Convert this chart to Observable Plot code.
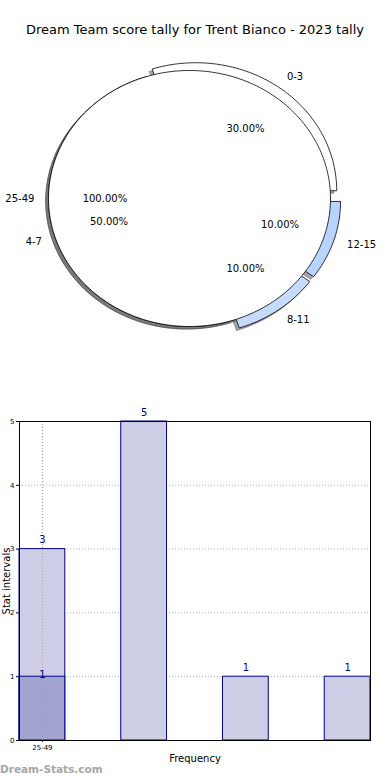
<!DOCTYPE html>
<html><head><meta charset="utf-8">
<script src="https://cdn.jsdelivr.net/npm/d3@7"></script>
<script src="https://cdn.jsdelivr.net/npm/@observablehq/plot@0.6"></script>
<style>
body{margin:0;background:#fff;font-family:"DejaVu Sans",sans-serif;}
#wrap{position:relative;width:390px;height:780px;overflow:hidden;background:#fff;}
#title{position:absolute;left:0;top:21px;width:390px;text-align:center;font-size:13px;line-height:18px;color:#000;}
#pie{position:absolute;left:0;top:45px;}
#bar{position:absolute;left:0;top:385px;}
#wm{position:absolute;left:0;top:762px;font-size:10.5px;font-weight:bold;color:#a6a6a6;line-height:15px;}
svg{font-family:"DejaVu Sans",sans-serif;}
</style></head>
<body><div id="wrap">
<div id="title">Dream Team score tally for Trent Bianco - 2023 tally</div>
<div id="pie"></div>
<div id="bar"></div>
<div id="wm">Dream-Stats.com</div>
</div>
<script>
// ---- data ----
const pieLabels = ["0-3", "4-7", "8-11", "12-15"];
const pieCounts = [3, 5, 1, 1];
const pieColors = ["#ffffff", "#ffffff", "#c6dafc", "#b8d4fc"];
const pieExplode = [0.075, 0, 0.075, 0.075];
const pie2Labels = ["25-49"];
const pie2Counts = [1];
const pie2Colors = ["#ffffff"];
const pie2Explode = [0];

const barCategories = ["0-3", "4-7", "8-11", "12-15"];
const barValues = [3, 5, 1, 1];
const bar2Categories = ["25-49"];
const bar2Values = [1];
const xTickLabels = ["25-49"];
const yTicks = [0, 1, 2, 3, 4, 5];

// ---- pie geometry (matplotlib-like: start at 0deg, counterclockwise) ----
function wedges(labels, counts, colors, explode) {
  const total = d3.sum(counts);
  let a = 0;
  return labels.map((lab, i) => {
    const t1 = a, t2 = a + 360 * counts[i] / total;
    a = t2;
    const mid = (t1 + t2) / 2 * Math.PI / 180;
    const dx = explode[i] * Math.cos(mid), dy = explode[i] * Math.sin(mid);
    const pts = [];
    const full = (t2 - t1) >= 359.999;
    if (!full) pts.push([dx, dy]);
    const n = Math.max(8, Math.ceil((t2 - t1) / 1.5));
    for (let k = 0; k <= n; k++) {
      const t = (t1 + (t2 - t1) * k / n) * Math.PI / 180;
      pts.push([dx + Math.cos(t), dy + Math.sin(t)]);
    }
    pts.push(pts[0]);
    const pct = (100 * counts[i] / total).toFixed(2) + "%";
    const lx = dx + 1.1 * Math.cos(mid), ly = dy + 1.1 * Math.sin(mid);
    return {
      label: lab, color: colors[i], pts, pct,
      lx, ly, right: lx > 0,
      px: dx + 0.6 * Math.cos(mid), py: dy + 0.6 * Math.sin(mid)
    };
  });
}
const W1 = wedges(pieLabels, pieCounts, pieColors, pieExplode);
const W2 = wedges(pie2Labels, pie2Counts, pie2Colors, pie2Explode);
const allW = [...W1, ...W2];

const pieMarks = [];
// shadows first (below all wedges)
for (const w of allW) {
  pieMarks.push(Plot.line(w.pts, {x: d => d[0] - 0.02, y: d => d[1] - 0.02, fill: "#4d4d4d", fillOpacity: 0.5, stroke: "#4d4d4d", strokeOpacity: 0.5, strokeWidth: 1, curve: "linear"}));
}
for (const w of allW) {
  pieMarks.push(Plot.line(w.pts, {x: d => d[0], y: d => d[1], fill: w.color, stroke: "#000", strokeWidth: 0.8, curve: "linear", strokeLinejoin: "miter"}));
}
pieMarks.push(Plot.text(allW.filter(w => w.right), {x: "lx", y: "ly", text: "label", textAnchor: "start", fontSize: 10, fill: "#000"}));
pieMarks.push(Plot.text(allW.filter(w => !w.right), {x: "lx", y: "ly", text: "label", textAnchor: "end", fontSize: 10, fill: "#000"}));
pieMarks.push(Plot.text(allW, {x: "px", y: "py", text: "pct", textAnchor: "middle", fontSize: 10, fill: "#000"}));

const pie = Plot.plot({
  width: 390, height: 330,
  marginLeft: 48, marginRight: 60, marginTop: 25, marginBottom: 49,
  x: {domain: [-1, 1]}, y: {domain: [-1, 1]},
  axis: null,
  marks: pieMarks
});
document.getElementById("pie").appendChild(pie);

// ---- bar chart ----
const barWidth = 0.45;
const bars1 = barCategories.map((c, i) => ({c, i, v: barValues[i]}));
const bars2 = bar2Categories.map((c, i) => ({c, i, v: bar2Values[i]}));
const xTickPos = xTickLabels.map((t, i) => i + barWidth / 2);

const bar = Plot.plot({
  width: 390, height: 395,
  marginLeft: 19, marginRight: 20, marginTop: 36, marginBottom: 40,
  style: {fontSize: "7px", fontFamily: "DejaVu Sans, sans-serif", color: "#000"},
  x: {type: "linear", domain: [0, barCategories.length - 1 + barWidth], ticks: xTickPos, tickFormat: (d, i) => xTickLabels[i], tickSize: 2, tickPadding: 3, label: null},
  y: {domain: [0, 5], ticks: yTicks, tickFormat: d => String(d), tickSize: 3, tickPadding: 2, label: null},
  marks: [
    Plot.ruleY(yTicks, {stroke: "#b0b0b0", strokeDasharray: "1,2", strokeWidth: 1}),
    Plot.ruleX(xTickPos, {stroke: "#b0b0b0", strokeDasharray: "1,2", strokeWidth: 1}),
    Plot.rect(bars1, {x1: "i", x2: d => d.i + barWidth, y1: 0, y2: "v", fill: "#cdcde5", stroke: "#00008b", strokeWidth: 1}),
    Plot.rect(bars2, {x1: "i", x2: d => d.i + barWidth, y1: 0, y2: "v", fill: "#a3a3d0", stroke: "#00008b", strokeWidth: 1}),
    Plot.ruleX(xTickPos, {stroke: "#8c8c8c", strokeDasharray: "1,2", strokeWidth: 1, strokeOpacity: 0.6}),
    Plot.text(bars1, {x: d => d.i + barWidth / 2, y: "v", text: d => String(d.v), dy: -9, fill: "#00008b", fontSize: 10}),
    Plot.text(bars2, {x: d => d.i + barWidth / 2, y: "v", text: d => String(d.v), dy: -2, fill: "#00008b", fontSize: 10}),
    Plot.frame({stroke: "#000", strokeWidth: 1}),
    Plot.text(["Stat intervals"], {frameAnchor: "left", textAnchor: "middle", rotate: -90, dx: -13, fontSize: 10, fill: "#000"}),
    Plot.text(["Frequency"], {frameAnchor: "bottom", dy: 21, fontSize: 10, fill: "#000"})
  ]
});
document.getElementById("bar").appendChild(bar);
</script>
</body></html>
